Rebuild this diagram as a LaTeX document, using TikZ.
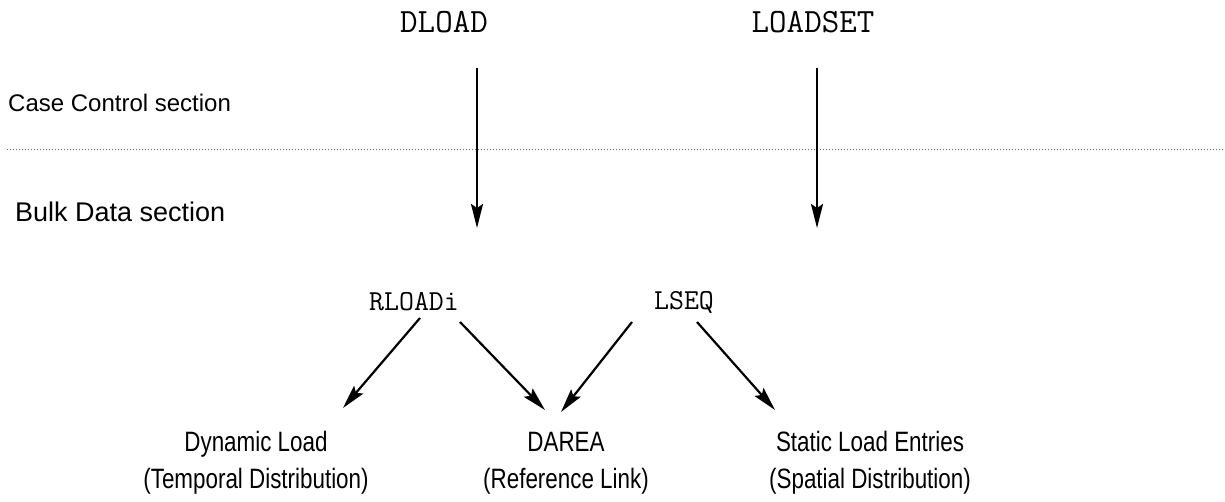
\documentclass[tikz,border=0pt]{standalone}
\usepackage{fontspec}
\setmainfont{Liberation Sans}
\newfontfamily\narrowsans[FakeStretch=0.8]{Liberation Sans}
\usetikzlibrary{arrows.meta}
\begin{document}
\begin{tikzpicture}[x=1pt,y=-1pt,
  kw/.style={font=\ttfamily\fontsize{34}{40}\selectfont, inner sep=0pt},
  kwsmall/.style={font=\ttfamily\fontsize{29}{34}\selectfont, inner sep=0pt},
  sect/.style={anchor=west, inner sep=0pt},
  leaf/.style={font=\narrowsans\fontsize{28}{37}\selectfont, align=center, inner sep=0pt},
  arr/.style={line width=2.2pt, -{Stealth[length=24pt,width=12pt,inset=4pt]}},
  sep/.style={dotted, line width=1pt, black!60}]
\useasboundingbox (0,0) rectangle (1225,502);
% keywords
\node[kw] (dload) at (444,22) {DLOAD};
\node[kw] (loadset) at (813,22) {LOADSET};
\node[kwsmall] (rloadi) at (414,302) {RLOADi};
\node[kwsmall] (lseq) at (684,302) {LSEQ};
% section labels
\node[sect, font=\fontsize{24}{28}\selectfont] (cc) at (8,103) {Case Control section};
\node[sect, font=\fontsize{27}{31}\selectfont] (bd) at (15,212) {Bulk Data section};
% separator
\coordinate (sepL) at (7,150);
\coordinate (sepR) at (1225,150);
\draw[sep] (sepL) -- (sepR);
% leaves
\node[leaf] (dyn) at (256,463) {Dynamic Load\\(Temporal Distribution)};
\node[leaf] (darea) at (566,463) {DAREA\\(Reference Link)};
\node[leaf] (stat) at (870,463) {Static Load Entries\\(Spatial Distribution)};
% arrow end points
\coordinate (d1) at (477,68);  \coordinate (d2) at (477,228);
\coordinate (l1) at (817,68);  \coordinate (l2) at (817,228);
\coordinate (r1) at (420,318); \coordinate (r1e) at (343,408);
\coordinate (r2) at (460,322); \coordinate (r2e) at (545,410);
\coordinate (s1) at (632,322); \coordinate (s1e) at (561,412);
\coordinate (s2) at (697,322); \coordinate (s2e) at (775,410);
\draw[arr] (d1) -- (d2);
\draw[arr] (l1) -- (l2);
\draw[arr] (r1) -- (r1e);
\draw[arr] (r2) -- (r2e);
\draw[arr] (s1) -- (s1e);
\draw[arr] (s2) -- (s2e);
\end{tikzpicture}
\end{document}
